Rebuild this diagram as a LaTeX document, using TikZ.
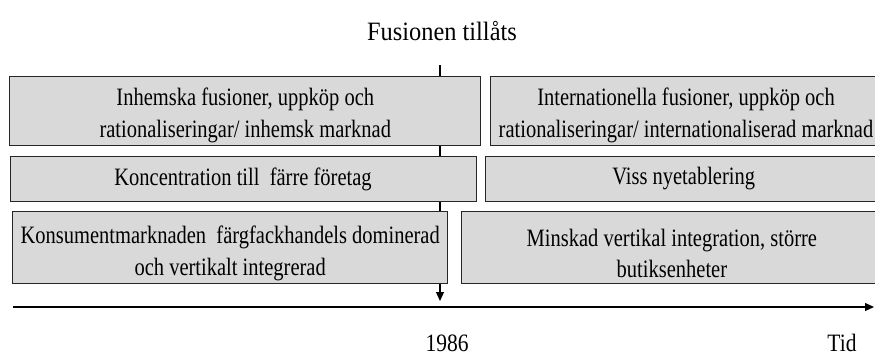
\documentclass[tikz,border=0pt]{standalone}
\usepackage{fontspec}
\setmainfont{Liberation Serif}[FakeStretch=0.82]
\newfontfamily\headfont{Liberation Serif}[FakeStretch=0.92]
\newfontfamily\tickfont{Liberation Serif}[FakeStretch=0.86]
\usetikzlibrary{arrows.meta}
\definecolor{boxgray}{RGB}{217,217,217}
\begin{document}
\begin{tikzpicture}[x=1pt,y=-1pt,
  phase/.style={draw=black!85,line width=1pt,fill=boxgray,inner sep=0pt},
  boxtext/.style={inner sep=0pt,align=center,font=\fontsize{25}{31.5}\selectfont},
  tick/.style={inner sep=0pt,font=\tickfont\fontsize{25}{30}\selectfont},
  axis/.style={line width=1.2pt,-{Triangle[length=9pt,width=8pt]}}]
\useasboundingbox (0,0) rectangle (875,356);
\clip (0,0) rectangle (875,356);

% time marker and axis
\coordinate (mtop) at (440,65);
\coordinate (mtip) at (440,301);
\draw[axis] (mtop) -- (mtip);
\coordinate (astart) at (13,307);
\coordinate (aend) at (874,307);
\draw[axis] (astart) -- (aend);

% before 1986
\node[phase,minimum width=470.7pt,minimum height=69pt,
  label={[boxtext,yshift=-4pt]center:Inhemska fusioner, uppköp och\\rationaliseringar/ inhemsk marknad}]
  (l1) at (245.3,111.2) {};
\node[phase,minimum width=466pt,minimum height=45.7pt,
  label={[boxtext,yshift=0pt]center:Koncentration till~ färre företag}]
  (l2) at (243,178.9) {};
\node[phase,minimum width=435pt,minimum height=71.6pt,
  label={[boxtext,yshift=-6pt]center:Konsumentmarknaden~ färgfackhandels dominerad\\och vertikalt integrerad}]
  (l3) at (230.2,247.5) {};

% after 1986
\node[phase,minimum width=392pt,minimum height=69pt,
  label={[boxtext,yshift=-4pt]center:Internationella fusioner, uppköp och\\rationaliseringar/ internationaliserad marknad}]
  (r1) at (686,111.2) {};
\node[phase,minimum width=396.7pt,minimum height=45.7pt,
  label={[boxtext,yshift=0pt]center:Viss nyetablering}]
  (r2) at (683.7,178.9) {};
\node[phase,minimum width=420.3pt,minimum height=71.6pt,
  label={[boxtext,yshift=-6pt]center:Minskad vertikal integration, större\\butiksenheter}]
  (r3) at (671.9,247.5) {};

% labels
\node[inner sep=0pt,font=\headfont\fontsize{26.5}{30}\selectfont] (title) at (442,31) {Fusionen tillåts};
\node[tick] (year) at (447,343) {1986};
\node[tick] (tid) at (842,343) {Tid};
\end{tikzpicture}
\end{document}
